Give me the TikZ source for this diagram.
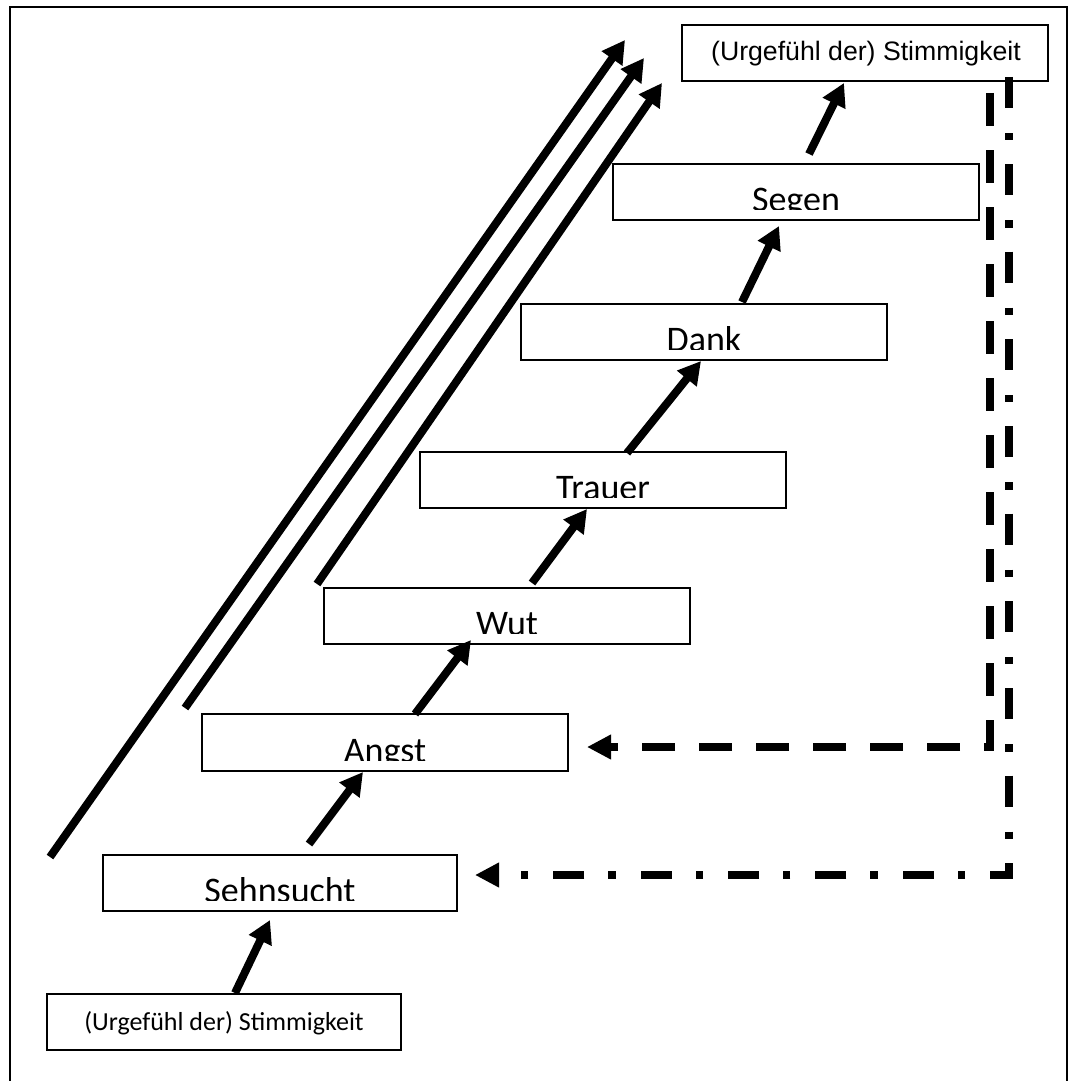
\documentclass[tikz,border=0pt]{standalone}
\usepackage{fontspec}
\usetikzlibrary{arrows.meta}
\newfontfamily\carlito{Carlito}
\newfontfamily\arialf{Liberation Sans}
% \mkbox{name}{x1}{y1}{x2}{y2}{text}  (text clipped near the bottom edge)
\newcommand\mkbox[6]{%
  \node[box, minimum width={(#4-#2)*0.75pt}, minimum height={(#5-#3)*0.75pt}] (#1) at (#2,#3) {};
  \begin{scope}
    \clip (#2,#3) rectangle (#4,{#5-11});
    \node[bigtext] (#1-t) at ({(#2+#4)/2},{#5-8.5}) {#6};
  \end{scope}}
\begin{document}
\begin{tikzpicture}[x=0.75pt,y=-0.75pt,
  box/.style={draw, line width=1.1pt, inner sep=0pt, outer sep=0pt, anchor=north west},
  bigtext/.style={font=\carlito\fontsize{27}{32}\selectfont, anchor=base, inner sep=0pt},
  arr/.style={line width=6pt, -{Triangle[length=17pt,width=18pt]}},
  dasharr/.style={line width=6pt, dash pattern=on 24.75pt off 18pt, -{Triangle[length=18pt,width=17.5pt]}},
  dotarr/.style={line width=6pt, dash pattern=on 23.25pt off 18.75pt on 5.5pt off 18pt, -{Triangle[length=18pt,width=17.5pt]}}]
\useasboundingbox (0,0) rectangle (1075,1081);
% outer frame (open at the bottom)
\draw[line width=1.5pt] (10,1090) -- (10,7) -- (1067,7) -- (1067,1090);

% boxes
\node[box, minimum width={366*0.75pt}, minimum height={56*0.75pt}] (top) at (682,25) {};
\node[font=\arialf\fontsize{20}{24}\selectfont, anchor=base, inner sep=0pt] (top-t) at (866,61) {(Urgefühl der) Stimmigkeit};
\mkbox{segen}{613}{164}{979}{220}{Segen}
\mkbox{dank}{521}{304}{887}{360}{Dank}
\mkbox{trauer}{420}{452}{786}{508}{Trauer}
\mkbox{wut}{324}{588}{690}{644}{Wut}
\mkbox{angst}{202}{714}{568}{771}{Angst}
\mkbox{sehn}{103}{855}{457}{911}{Sehnsucht}
\node[box, minimum width={354*0.75pt}, minimum height={56*0.75pt}] (bot) at (47,994) {};
\node[font=\carlito\fontsize{19.5}{23}\selectfont, anchor=base, inner sep=0pt] (bot-t) at (224,1030) {(Urgefühl der) Stimmigkeit};

% step arrows
\coordinate (a1s) at (235,993);  \coordinate (a1e) at (270,920);
\coordinate (a2s) at (309,844);  \coordinate (a2e) at (363,772);
\coordinate (a3s) at (415,714);  \coordinate (a3e) at (471,640);
\coordinate (a4s) at (532,583);  \coordinate (a4e) at (587,509);
\coordinate (a5s) at (627,453);  \coordinate (a5e) at (701,361);
\coordinate (a6s) at (742,302);  \coordinate (a6e) at (779,226);
\coordinate (a7s) at (809,154);  \coordinate (a7e) at (844,83);
\draw[arr] (a1s) -- (a1e);
\draw[arr] (a2s) -- (a2e);
\draw[arr] (a3s) -- (a3e);
\draw[arr] (a4s) -- (a4e);
\draw[arr] (a5s) -- (a5e);
\draw[arr] (a6s) -- (a6e);
\draw[arr] (a7s) -- (a7e);

% long diagonal arrows
\coordinate (l1s) at (50,857);  \coordinate (l1e) at (625,40);
\coordinate (l2s) at (185,708); \coordinate (l2e) at (644,58);
\coordinate (l3s) at (317,584); \coordinate (l3e) at (662,83);
\draw[arr] (l1s) -- (l1e);
\draw[arr] (l2s) -- (l2e);
\draw[arr] (l3s) -- (l3e);

% return arrows
\coordinate (d1s) at (990,93);  \coordinate (d1e) at (587,747);
\coordinate (d2s) at (1009,77); \coordinate (d2e) at (475,875);
\draw[dasharr] (d1s) |- (d1e);
\draw[dotarr] (d2s) |- (d2e);
\end{tikzpicture}
\end{document}
